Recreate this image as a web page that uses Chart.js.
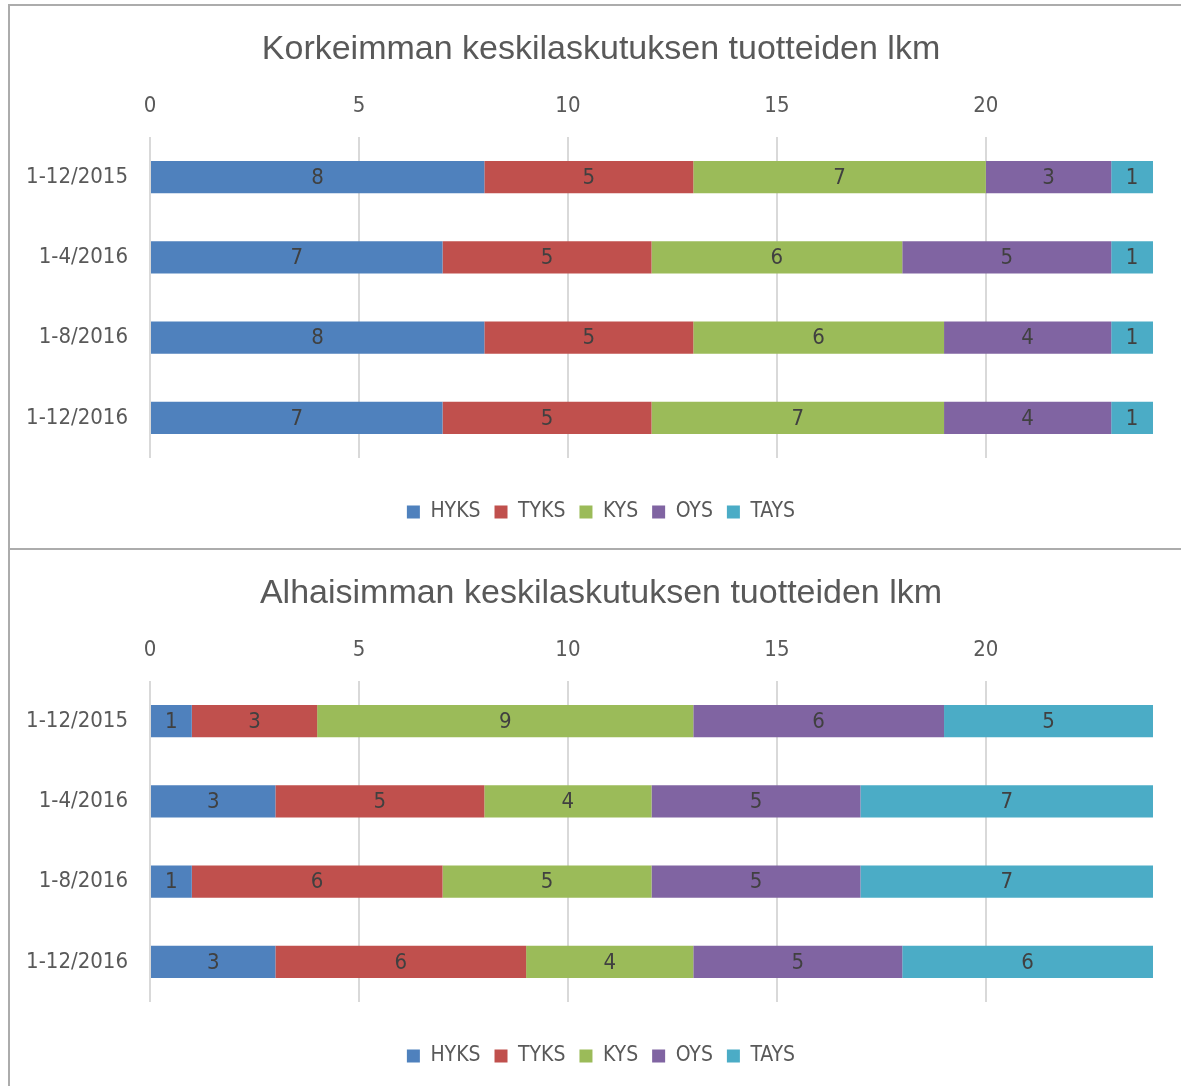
<!DOCTYPE html>
<html>
<head>
<meta charset="utf-8">
<script src="https://cdn.jsdelivr.net/npm/chart.js@4.4.1/dist/chart.umd.min.js"></script>
<style>
    body { margin: 0; overflow: hidden; background: #fff; }
    .painel { position: absolute; left: 8px; width: 1183px; height: 542px; border: 2px solid #acacac; overflow: hidden; background: #fff; }
    #painel1 { top: 4px; }
    #painel2 { top: 550px; border-top: none; }
    canvas { display: block; }
</style>
</head>
<body>
<div class="painel" id="painel1"><canvas id="graficoKorkein" width="1182" height="542"></canvas></div>
<div class="painel" id="painel2"><canvas id="graficoAlhaisin" width="1182" height="542"></canvas></div>
<script>
// data
const jaksot = ['1-12/2015', '1-4/2016', '1-8/2016', '1-12/2016'];
const sairaalat = ['HYKS', 'TYKS', 'KYS', 'OYS', 'TAYS'];
const xTicks = [0, 5, 10, 15, 20];
const xMax = 24;

// korkein keskilaskutus
const hyksKork = [8, 7, 8, 7];
const tyksKork = [5, 5, 5, 5];
const kysKork = [7, 6, 6, 7];
const oysKork = [3, 5, 4, 4];
const taysKork = [1, 1, 1, 1];

// alhaisin keskilaskutus
const hyksAlh = [1, 3, 1, 3];
const tyksAlh = [3, 5, 6, 6];
const kysAlh = [9, 4, 5, 4];
const oysAlh = [6, 5, 5, 5];
const taysAlh = [5, 7, 7, 6];

const varit = ['#4f81bd', '#c0504d', '#9bbb59', '#8064a2', '#4bacc6'];
const tekstiVari = '#595959';
const fontti = '"Liberation Sans", sans-serif';
const kapea = '"DejaVu Sans Condensed", "Liberation Sans Narrow", sans-serif';

// values written in the middle of every bar piece
const arvoPlugin = {
    id: 'arvot',
    afterDatasetsDraw(chart) {
        const ctx = chart.ctx;
        ctx.save();
        ctx.font = '22px ' + kapea;
        ctx.fillStyle = '#404040';
        ctx.textAlign = 'center';
        ctx.textBaseline = 'middle';
        chart.data.datasets.forEach(function (ds, i) {
            const meta = chart.getDatasetMeta(i);
            meta.data.forEach(function (bar, j) {
                const p = bar.getProps(['x', 'y', 'base'], true);
                ctx.fillText(String(ds.data[j]), (p.x + p.base) / 2, p.y + 1);
            });
        });
        ctx.restore();
    }
};

function teeGraafi(id, otsikko, sarjat) {
    const datasets = [];
    for (let i = 0; i < sairaalat.length; i++) {
        datasets.push({
            label: sairaalat[i],
            data: sarjat[i],
            xAxisID: 'x',
            yAxisID: 'y',
            backgroundColor: varit[i],
            borderWidth: 0,
            barPercentage: 0.4,
            categoryPercentage: 1
        });
    }
    const config = {
        type: 'bar',
        data: { labels: jaksot, datasets: datasets },
        options: {
            indexAxis: 'y',
            responsive: false,
            animation: false,
            layout: { padding: { left: 0, right: 0, top: 0, bottom: 15.5 } },
            plugins: {
                title: {
                    display: true,
                    text: otsikko,
                    color: tekstiVari,
                    font: { family: fontti, size: 34, weight: 'normal' },
                    padding: { top: 23.6, bottom: 4.6 }
                },
                legend: {
                    position: 'bottom',
                    labels: {
                        boxWidth: 13,
                        boxHeight: 13,
                        padding: 14,
                        color: tekstiVari,
                        font: { family: kapea, size: 21 }
                    }
                },
                tooltip: { enabled: false }
            },
            scales: {
                y: {
                    stacked: true,
                    grid: { display: false, drawTicks: false },
                    border: { display: false },
                    ticks: { padding: 22, color: tekstiVari, font: { family: kapea, size: 22 } },
                    afterFit: function (s) { s.width = 140; }
                },
                x: {
                    position: 'top',
                    stacked: true,
                    min: 0,
                    max: xMax,
                    afterBuildTicks: function (s) { s.ticks = xTicks.map(v => ({ value: v })); },
                    grid: { color: '#d9d9d9', lineWidth: 2, drawTicks: false },
                    border: { display: false },
                    ticks: { padding: 17.8, color: tekstiVari, font: { family: kapea, size: 22 } }
                },
                // empty axes, only to keep the gaps right and above the legend
                x2: {
                    type: 'linear',
                    position: 'bottom',
                    display: true,
                    grid: { display: false, drawTicks: false },
                    border: { display: false },
                    ticks: { display: false },
                    afterFit: function (s) { s.height = 29.5; }
                },
                y2: {
                    type: 'linear',
                    position: 'right',
                    display: true,
                    grid: { display: false, drawTicks: false },
                    border: { display: false },
                    ticks: { display: false },
                    afterFit: function (s) { s.width = 39; }
                }
            }
        },
        plugins: [arvoPlugin]
    };
    const ctx = document.getElementById(id).getContext('2d');
    return new Chart(ctx, config);
}

let GraafiKork = teeGraafi('graficoKorkein', 'Korkeimman keskilaskutuksen tuotteiden lkm',
    [hyksKork, tyksKork, kysKork, oysKork, taysKork]);
let GraafiAlh = teeGraafi('graficoAlhaisin', 'Alhaisimman keskilaskutuksen tuotteiden lkm',
    [hyksAlh, tyksAlh, kysAlh, oysAlh, taysAlh]);
</script>
</body>
</html>
